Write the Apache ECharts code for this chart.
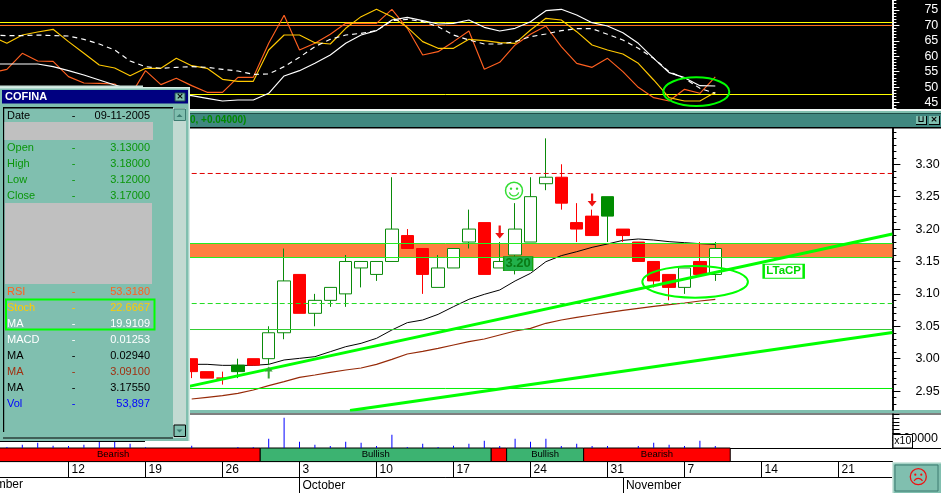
<!DOCTYPE html>
<html><head><meta charset="utf-8">
<style>html,body{margin:0;padding:0;background:#fff;overflow:hidden}#c{width:941px;height:493px}</style>
<script src="https://cdn.jsdelivr.net/npm/echarts@6/dist/echarts.min.js"></script>
</head><body><div id="c"></div>
<script>
const dates=["09-05","09-06","09-07","09-08","09-09","09-12","09-13","09-14","09-15","09-16","09-19","09-20","09-21","09-22","09-23","09-26","09-27","09-28","09-29","09-30",
"10-03","10-04","10-05","10-06","10-07","10-10","10-11","10-12","10-13","10-14","10-17","10-18","10-19","10-20","10-21","10-24","10-25","10-26","10-27","10-28",
"10-31","11-01","11-02","11-03","11-04","11-07","11-08","11-09","11-10","11-11","11-14","11-15","11-16","11-17","11-18","11-21","11-22","11-23","11-24"];
const weekTicks=["09-12","09-19","09-26","10-03","10-10","10-17","10-24","10-31","11-07","11-14","11-21"];
const monthTicks=["10-03","11-01"];
const monthNames=["October","November"];
const rsi=[54.67,55.75,60.93,58.45,58.34,53.38,51.33,51.22,51.0,47.12,55.32,50.79,52.84,50.47,48.31,48.31,53.16,53.16,64.17,73.23,62.01,64.17,67.08,70.64,70.64,70.64,75.17,69.02,60.39,61.47,64.71,68.16,55.75,58.02,63.63,67.08,69.78,63.09,57.69,56.4,59.31,55.0,49.93,46.58,45.5,49.28,48.0,53.3];
const stoch=[66.54,64.17,66.86,67.83,68.70,64.71,60.93,57.15,56.18,53.70,56.08,56.08,59.31,56.94,56.08,52.52,51.87,51.87,62.01,66.86,66.86,64.38,63.95,69.02,72.80,75.17,72.80,69.34,64.71,62.55,62.55,65.46,65.03,64.38,64.17,68.48,72.26,71.72,67.94,63.63,62.01,60.71,57.69,52.30,46.58,45.5,45.5,48.31];
const maSolid=[57.48,57.48,57.48,57.48,56.62,55.32,53.92,52.30,50.68,49.28,48.52,47.98,47.55,47.23,46.37,45.5,45.83,45.83,47.98,53.60,55.32,57.69,60.39,64.17,66.86,68.27,71.72,72.58,71.50,70.42,70.64,71.72,69.34,68.16,69.02,71.18,74.74,75.17,73.34,70.85,69.78,67.62,64.17,59.31,54.67,53.06,50.47,50.36];
const maDashed=[66.86,66.65,66.65,66.86,66.65,66.54,65.46,63.95,62.01,58.45,56.62,56.08,56.40,56.62,56.40,55.75,55.21,54.13,54.24,56.62,59.64,63.09,65.46,66.86,67.40,68.27,71.50,71.93,71.18,69.56,66.86,65.25,63.95,63.95,64.71,66.32,67.19,68.27,68.91,68.91,67.08,65.25,62.55,59.31,54.98,52.84,49.60,47.98];
const oscLevels=[70.907,69.94,47.60];
const oscMajor=[45,50,55,60,65,70,75];
const oscMinor=[43,44,46,47,48,49,51,52,53,54,56,57,58,59,61,62,63,64,66,67,68,69,71,72,73,74,76,77,78];
const priceMajor=[2.95,3.00,3.05,3.10,3.15,3.20,3.25,3.30];
const priceMinor=[2.93,2.94,2.96,2.97,2.98,2.99,3.01,3.02,3.03,3.04,3.06,3.07,3.08,3.09,3.11,3.12,3.13,3.14,3.16,3.17,3.18,3.19,3.21,3.22,3.23,3.24,3.26,3.27,3.28,3.29,3.31,3.32,3.33,3.34,3.35];
// candles begin at slot 13 (Sep 22)
const opens =[3.00,2.98,2.97,2.98,3.00,3.00,3.04,3.13,3.07,3.09,3.10,3.14,3.13,3.15,3.19,3.17,3.11,3.14,3.18,3.21,3.14,3.16,3.18,3.27,3.28,3.21,3.22,3.25,3.20,3.18,3.15,3.13,3.11,3.15,3.13];
const closes=[2.98,2.97,2.97,2.99,2.99,3.04,3.12,3.07,3.09,3.11,3.15,3.15,3.15,3.20,3.17,3.13,3.14,3.17,3.20,3.13,3.15,3.20,3.25,3.28,3.24,3.20,3.19,3.22,3.19,3.15,3.12,3.11,3.14,3.13,3.17];
const lows  =[2.97,2.97,2.96,2.97,2.99,2.99,3.03,3.07,3.05,3.08,3.08,3.11,3.12,3.15,3.17,3.10,3.11,3.14,3.17,3.13,3.14,3.13,3.18,3.26,3.23,3.18,3.19,3.18,3.18,3.15,3.11,3.09,3.10,3.13,3.12];
const highs =[3.00,2.98,2.98,3.00,3.00,3.05,3.17,3.13,3.10,3.11,3.16,3.15,3.15,3.28,3.20,3.17,3.16,3.17,3.23,3.21,3.18,3.24,3.28,3.34,3.30,3.24,3.23,3.25,3.20,3.18,3.15,3.13,3.14,3.18,3.18];
const candleStart=13;
const filledDates=["09-27","10-31"];
const dojiDates=["09-26"];
const maShort=[2.9913,2.9913,2.9897,2.9897,2.9897,2.9913,2.9980,3.0005,3.0031,3.0108,3.0185,3.0237,3.0314,3.0443,3.0556,3.0597,3.0684,3.0803,3.0916,3.0993,3.1060,3.1199,3.1317,3.1497,3.1590,3.1651,3.1718,3.1770,3.1826,3.1847,3.1831,3.1806,3.1790,3.1775,3.1765];
const maLong=[2.9378,2.9404,2.9429,2.9465,2.9517,2.9583,2.9645,2.9712,2.9748,2.9789,2.9825,2.9856,2.9913,2.9990,3.0072,3.0113,3.0160,3.0211,3.0263,3.0304,3.0366,3.0427,3.0468,3.0546,3.0597,3.0638,3.0674,3.0710,3.0746,3.0777,3.0808,3.0834,3.0859,3.0890,3.0916];
const volumes=[null,27000,89000,143000,62000,54000,89000,170000,170000,116000,19000,0,0,62000,0,0,27000,27000,251000,817000,170000,89000,54000,170000,143000,54000,358000,27000,116000,27000,62000,116000,197000,54000,251000,170000,251000,54000,116000,54000,54000,0,54000,143000,89000,54000,197000,53897];
const bandLabels=["Bearish","Bullish","","Bullish","Bearish"];
const bandKinds=["bear","bull","bear","bull","bear"];
const bandEdges=[-1.66,17.45,32.45,33.45,38.45,47.97];
const resistBand=[3.1561,3.1777];
const resistanceLine=3.2858, supportDash=3.0851, lowerLevel=3.045, floorLevel=2.954;
const trendUp=[[12,2.953],[58.5,3.1924]];
const trendLow=[[23.28,2.92],[58.5,3.0404]];
const ringPrice=[42.26,3.1431,49.12,3.0941];
const ringOsc=[43.62,53.17,47.91,43.88];
const upArrows=[[18,2.9787]];
const downArrows=[[33,3.1955],[39,3.2449]];
const smile=[[33.93,3.2593]];
const priceTag=[[34.2,3.1466,"3.20"]];
const patternTag=[[51.44,3.1349,"LTaCP"]];
const info=[["Date","09-11-2005","#000"],["Open","3.13000","#0a960a"],["High","3.18000","#0a960a"],["Low","3.12000","#0a960a"],["Close","3.17000","#0a960a"],
["RSI","53.3180","#ff6020"],["Stoch","22.6667","#ffcc00"],["MA","19.9109","#fff"],["MACD","0.01253","#fff"],["MA","0.02940","#000"],["MA","3.09100","#a03010"],["MA","3.17550","#000"],["Vol","53,897","#0000ff"]];
const infoY=[116,148,164,180,196,292,308,324,340,356,372,388,404];

const FONT='"Liberation Sans",Arial,sans-serif';
const SLOTMIN=-0.5,SLOTMAX=58.5;
const GL=-16.2,GW=908.6;
const pad=(a,s)=>new Array(s).fill(null).concat(a);
const g=(top,height)=>({left:GL,width:GW,top,height,show:false,containLabel:false,outerBoundsMode:'none'});
const catAxis=(gridIndex,extra)=>Object.assign({type:'category',gridIndex,data:dates,show:false,boundaryGap:true},extra||{});
const slotAxis=(gridIndex)=>({type:'value',gridIndex,min:SLOTMIN,max:SLOTMAX,show:false,splitLine:{show:false}});
const stripAxis=(gridIndex,ticks,len,fmt)=>({type:'category',gridIndex,data:dates,boundaryGap:true,position:'bottom',
  axisLine:{show:true,onZero:false,lineStyle:{color:'#000',width:1}},
  axisTick:{show:true,inside:true,length:len,alignWithLabel:true,interval:(i,v)=>ticks.includes(v),lineStyle:{color:'#000',width:1}},
  axisLabel:{show:true,inside:true,margin:1,align:'left',verticalAlign:'bottom',padding:[0,0,0,3],interval:(i,v)=>ticks.includes(v),formatter:fmt,color:'#000',fontFamily:FONT,fontSize:12,hideOverlap:false},
  splitLine:{show:false}});
const rAxis=(gridIndex,min,max,vals,len,color,label,fmt,margin)=>({type:'value',gridIndex,position:'right',min,max,scale:true,
  axisLine:{show:true,onZero:false,lineStyle:{color,width:1.5}},
  axisTick:{show:true,length:len,customValues:vals,lineStyle:{color,width:1}},
  axisLabel:label?{show:true,customValues:vals,margin,padding:[3,0,0,0],formatter:fmt,color,fontFamily:FONT,fontSize:12.5}:{show:false},
  splitLine:{show:false},minorTick:{show:false}});
const hidY=(gridIndex,min,max)=>({type:'value',gridIndex,min,max,show:false,splitLine:{show:false}});

const xAxis=[catAxis(0),slotAxis(0),catAxis(1),slotAxis(1),
 catAxis(2,{show:true,axisLine:{show:true,onZero:false,lineStyle:{color:'#000',width:1}},axisTick:{show:false},axisLabel:{show:false}}),
 {type:'value',gridIndex:3,min:SLOTMIN,max:SLOTMAX,splitLine:{show:false},axisTick:{show:false},axisLabel:{show:false},axisLine:{show:true,onZero:false,lineStyle:{color:'#000',width:1}}},
 stripAxis(4,weekTicks,15,v=>String(parseInt(v.slice(3),10))),
 stripAxis(5,monthTicks,16,v=>monthNames[monthTicks.indexOf(v)])];
const OSCMIN=42.91,OSCMAX=78.19,PMIN=2.9208,PMAX=3.3552;
const yAxis=[rAxis(0,OSCMIN,OSCMAX,oscMajor,7,'#fff',true,v=>String(v),32),rAxis(0,OSCMIN,OSCMAX,oscMinor,4,'#fff',false),
 rAxis(1,PMIN,PMAX,priceMajor,8,'#000',true,v=>Number(v).toFixed(2),23),rAxis(1,PMIN,PMAX,priceMinor,4,'#000',false),
 {type:'value',gridIndex:2,position:'right',min:0,max:916000,axisLine:{show:true,onZero:false,lineStyle:{color:'#000',width:1.5}},axisTick:{show:true,length:7,customValues:[100000,200000,300000,400000,500000,600000,700000,800000,900000],lineStyle:{color:'#000'}},axisLabel:{show:false},splitLine:{show:false}},
 hidY(3,0,1),hidY(4,0,1),hidY(5,0,1)];

const osc=(name,data,color,dash,z)=>({name,type:'line',xAxisIndex:0,yAxisIndex:0,data,symbol:'none',silent:true,z:z||3,lineStyle:{color,width:1.15,type:dash||'solid'}});
const hline=(x,y,val,color,width,dash,start,z)=>({type:'line',xAxisIndex:x,yAxisIndex:y,data:[[start,val],[SLOTMAX,val]],symbol:'none',silent:true,z:z,lineStyle:{color,width,type:dash||'solid'}});
const ellipseSeries=(x,y,datum,width)=>({type:'custom',xAxisIndex:x,yAxisIndex:y,data:[datum],clip:false,silent:true,z:9,encode:{x:[0,2],y:[1,3]},
 renderItem:(p,api)=>{const a=api.coord([api.value(0),api.value(1)]),b=api.coord([api.value(2),api.value(3)]);
  return {type:'ellipse',shape:{cx:(a[0]+b[0])/2,cy:(a[1]+b[1])/2,rx:Math.abs(b[0]-a[0])/2,ry:Math.abs(b[1]-a[1])/2},style:{fill:null,stroke:'#00ff00',lineWidth:width}};}});
const candleData=opens.map((o,i)=>{const d=dates[i+candleStart];const it={value:[o,closes[i],lows[i],highs[i]]};
  if(filledDates.includes(d))it.itemStyle={color0:'#008c00',borderColor0:'#008c00',color:'#008c00',borderColor:'#008c00'};
  if(dojiDates.includes(d))it.itemStyle={color:'#ff0000',borderColor:'#ff0000',color0:'#ff0000',borderColor0:'#ff0000'};
  return it;});
const blank=new Array(candleStart).fill(0).map(()=>({value:['-','-','-','-']}));
const tagSeries=(data,size,fill,border,bw,textColor,fontSize)=>({type:'scatter',xAxisIndex:3,yAxisIndex:2,data,symbol:'rect',symbolSize:size,silent:true,z:8,
  itemStyle:{color:fill,borderColor:border,borderWidth:bw,opacity:1},
  label:{show:true,position:'inside',formatter:p=>p.value[2],color:textColor,fontFamily:FONT,fontWeight:'bold',fontSize}});
const ARROW='path://M3,0 H5 V7 H8 L4,12 L0,7 H3 Z';

const series=[
 hline(1,0,oscLevels[0],'#ffff00',1,null,SLOTMIN,2),
 hline(1,0,oscLevels[1],'#ff7020',1,null,SLOTMIN,2),
 hline(1,0,oscLevels[2],'#ffff00',1,null,SLOTMIN,2),
 osc('RSI',rsi,'#ff6020'),osc('Stoch',stoch,'#ffc800'),osc('MA',maSolid,'#ffffff'),osc('MA dashed',maDashed,'#ffffff',[5,4]),
 ellipseSeries(1,0,ringOsc,2),
 {type:'custom',xAxisIndex:3,yAxisIndex:2,data:[resistBand],silent:true,z:1,encode:{y:[0,1]},
  renderItem:(p,api)=>{const a=api.coord([SLOTMIN,api.value(1)]),b=api.coord([SLOTMAX,api.value(0)]);
   return {type:'rect',shape:{x:a[0],y:a[1],width:b[0]-a[0],height:b[1]-a[1]},style:{fill:'#ff8040'}};}},
 {name:'MA short',type:'line',xAxisIndex:2,yAxisIndex:2,data:pad(maShort,candleStart),symbol:'none',silent:true,z:2,lineStyle:{color:'#000',width:1}},
 {name:'MA long',type:'line',xAxisIndex:2,yAxisIndex:2,data:pad(maLong,candleStart),symbol:'none',silent:true,z:2,lineStyle:{color:'#962a08',width:1.2}},
 {name:'COFINA',type:'candlestick',xAxisIndex:2,yAxisIndex:2,data:blank.concat(candleData),barWidth:13,silent:true,z:3,
  itemStyle:{color:'#ffffff',color0:'#ff0000',borderColor:'#0a8a0a',borderColor0:'#ff0000',borderWidth:1}},
 hline(3,2,resistBand[0],'#22ee22',1,null,SLOTMIN,4),
 hline(3,2,resistBand[1],'#22ee22',1,null,SLOTMIN,4),
 hline(3,2,resistanceLine,'#e00000',1,[5,3],13,4),
 hline(3,2,supportDash,'#22dd22',1,[5,3],13,4),
 hline(3,2,lowerLevel,'#33cc33',1,null,SLOTMIN,4),
 hline(3,2,floorLevel,'#00f000',1,null,SLOTMIN,4),
 {type:'line',xAxisIndex:3,yAxisIndex:2,data:trendUp,symbol:'none',silent:true,z:5,lineStyle:{color:'#00ff00',width:3}},
 {type:'line',xAxisIndex:3,yAxisIndex:2,data:trendLow,symbol:'none',silent:true,z:5,lineStyle:{color:'#00ff00',width:3}},
 ellipseSeries(3,2,ringPrice,2),
 {type:'scatter',xAxisIndex:3,yAxisIndex:2,data:downArrows,symbol:ARROW,symbolSize:[9,13],symbolRotate:0,silent:true,z:6,itemStyle:{color:'#ee1111',opacity:1}},
 {type:'scatter',xAxisIndex:3,yAxisIndex:2,data:upArrows,symbol:ARROW,symbolSize:[8,12],symbolRotate:180,silent:true,z:6,itemStyle:{color:'#38a838',opacity:1}},
 tagSeries(priceTag,[29,14],'#22b14c','#12a012',1,'#0a7a14',13),
 tagSeries(patternTag,[40,14],'#ffffff','#00ee00',1.5,'#00d800',11.5),
 {type:'custom',xAxisIndex:3,yAxisIndex:2,data:smile,clip:false,silent:true,z:6,
  renderItem:(p,api)=>{const c=api.coord([api.value(0),api.value(1)]);const s='#33dd33';
   return {type:'group',x:c[0],y:c[1],children:[
    {type:'circle',shape:{cx:0,cy:0,r:8.5},style:{fill:'#fff',stroke:s,lineWidth:1.5}},
    {type:'circle',shape:{cx:-3,cy:-2,r:1.2},style:{fill:s}},
    {type:'circle',shape:{cx:3,cy:-2,r:1.2},style:{fill:s}},
    {type:'arc',shape:{cx:0,cy:0.5,r:4.8,startAngle:0.25,endAngle:Math.PI-0.25},style:{fill:null,stroke:s,lineWidth:1.3}}]};}},
 {name:'Vol',type:'bar',xAxisIndex:4,yAxisIndex:4,data:volumes,barWidth:1,silent:true,z:3,itemStyle:{color:'#0000ff'}},
 {type:'custom',xAxisIndex:5,yAxisIndex:5,silent:true,z:3,clip:false,
  data:bandLabels.map((l,i)=>[bandEdges[i],bandEdges[i+1],i]),encode:{x:[0,1]},
  renderItem:(p,api)=>{const i=api.value(2),a=api.coord([api.value(0),1]),b=api.coord([api.value(1),0]);
   return {type:'group',children:[
    {type:'rect',shape:{x:a[0],y:a[1],width:b[0]-a[0],height:b[1]-a[1]},style:{fill:bandKinds[i]==='bear'?'#ff0000':'#3cb371',stroke:'#000',lineWidth:1}},
    {type:'text',x:(a[0]+b[0])/2,y:(a[1]+b[1])/2,style:{text:bandLabels[i],textAlign:'center',textVerticalAlign:'middle',font:'9.5px '+FONT,fill:'#000'}}]};}}
];

// ---- window furniture
const el=[];
const R=(x,y,w,h,fill,z,extra)=>el.push(Object.assign({type:'rect',shape:{x,y,width:w,height:h},style:Object.assign({fill},extra||{}),z,silent:true}));
const T=(text,x,y,fill,font,align,z)=>el.push({type:'text',x,y,style:{text,fill,font:font||('11px '+FONT),textAlign:align||'left',textVerticalAlign:'middle'},z,silent:true});
const BG=-5,TOP=50;
R(0,0,941,109,'#000',BG);
R(0,109,941,2,'#f0f8f5',BG);R(0,111,941,2,'#80bfaf',BG);R(0,113,941,1,'#20504a',BG);R(0,114,941,13,'#408880',BG);R(0,127,941,1.5,'#000',BG);
R(190,410,751,3,'#80bfaf',BG);R(0,413.5,941,1,'#000',BG);R(892,448,49,1,'#000',BG);
T('0, +0.04000)',190,120.5,'#008800','bold 10px '+FONT,'left',BG+1);
// title buttons
[[916,'u'],[929,'x']].forEach(b=>{R(b[0],116,11,9,'#000',BG+1);R(b[0],116,10,8,'#80bfaf',BG+2);T(b[1]==='u'?'⊔':'×',b[0]+5,120,'#000','bold 9px "DejaVu Sans"','center',BG+3);});
T('100000',938,439,'#000','12.5px '+FONT,'right',BG+1);
R(893,434.5,19.5,13.5,'#fff',5,{stroke:'#000',lineWidth:1});T('x10',902.8,441.5,'#000','10.5px '+FONT,'center',6);
T('September',23,485,'#000','12px '+FONT,'right',5);
// mood box
R(892,462,49,31,'#80bfaf',5);R(892,462,49,1.5,'#d0e8e0',6);R(892,462,1.5,31,'#d0e8e0',6);
R(895,465,43,26,'#80bfaf',6,{stroke:'#3c7a70',lineWidth:1});
el.push({type:'circle',shape:{cx:918.3,cy:476.7,r:8},style:{fill:null,stroke:'#ee1111',lineWidth:1.3},z:7,silent:true});
el.push({type:'circle',shape:{cx:915.3,cy:474.7,r:1.1},style:{fill:'#ee1111'},z:7,silent:true});
el.push({type:'circle',shape:{cx:921.3,cy:474.7,r:1.1},style:{fill:'#ee1111'},z:7,silent:true});
el.push({type:'arc',shape:{cx:918.3,cy:483,r:4.6,startAngle:Math.PI+0.45,endAngle:2*Math.PI-0.45},style:{fill:null,stroke:'#ee1111',lineWidth:1.2},z:7,silent:true});
// data window
R(0,85.5,143,1.5,'#c8e0d8',TOP-1);R(0,441,145,1,'#000',TOP-1);
R(0,87,190,354,'#80bfaf',TOP);
R(188.5,87,1.5,354,'#d8ece6',TOP+1);R(0,87,190,1.5,'#d8ece6',TOP+1);
R(2,90,186,13.5,'#000080',TOP+1);
T('COFINA',5,97,'#fff','bold 11px '+FONT,'left',TOP+2);
R(175,93,10,8,'#80bfaf',TOP+2,{stroke:'#20504a',lineWidth:1});T('×',180,97,'#000','bold 9px "DejaVu Sans"','center',TOP+3);
R(3,107,170,1.5,'#000',TOP+1);R(3,107,1.2,325,'#000',TOP+1);R(3,437.5,170,1,'#000',TOP+1);
R(173,108,13,330,'#c2dad2',TOP+1);
R(174,109,11.5,11.5,'#80bfaf',TOP+2,{stroke:'#3c7a70',lineWidth:1});R(174,425,11.5,11.5,'#80bfaf',TOP+2,{stroke:'#000',lineWidth:1});
el.push({type:'polygon',shape:{points:[[176.5,117],[182.5,117],[179.5,114]]},style:{fill:'#3c7a70'},z:TOP+3,silent:true});
el.push({type:'polygon',shape:{points:[[176.5,429.5],[182.5,429.5],[179.5,432.5]]},style:{fill:'#3c7a70'},z:TOP+3,silent:true});
R(4.5,122,148.5,18,'#c0c0c0',TOP+1);
R(5,203,147,81,'#c0c0c0',TOP+1);
info.forEach((r,i)=>{T(r[0],7,infoY[i],r[2],null,'left',TOP+2);T('-',73.5,infoY[i],r[2],null,'center',TOP+2);T(r[1],150,infoY[i],r[2],null,'right',TOP+2);});
R(6,299.5,148.5,30,'none',TOP+3,{stroke:'#00ff00',lineWidth:2});

const chart=echarts.init(document.getElementById('c'),null,{renderer:'canvas'});
chart.setOption({animation:false,backgroundColor:'#ffffff',tooltip:{show:false},legend:{show:false},
 grid:[g(0,109),g(128.5,281.5),g(414,34),g(448,13.6),g(462,15),g(477,16)],
 xAxis,yAxis,series,graphic:{elements:el}});
</script></body></html>
